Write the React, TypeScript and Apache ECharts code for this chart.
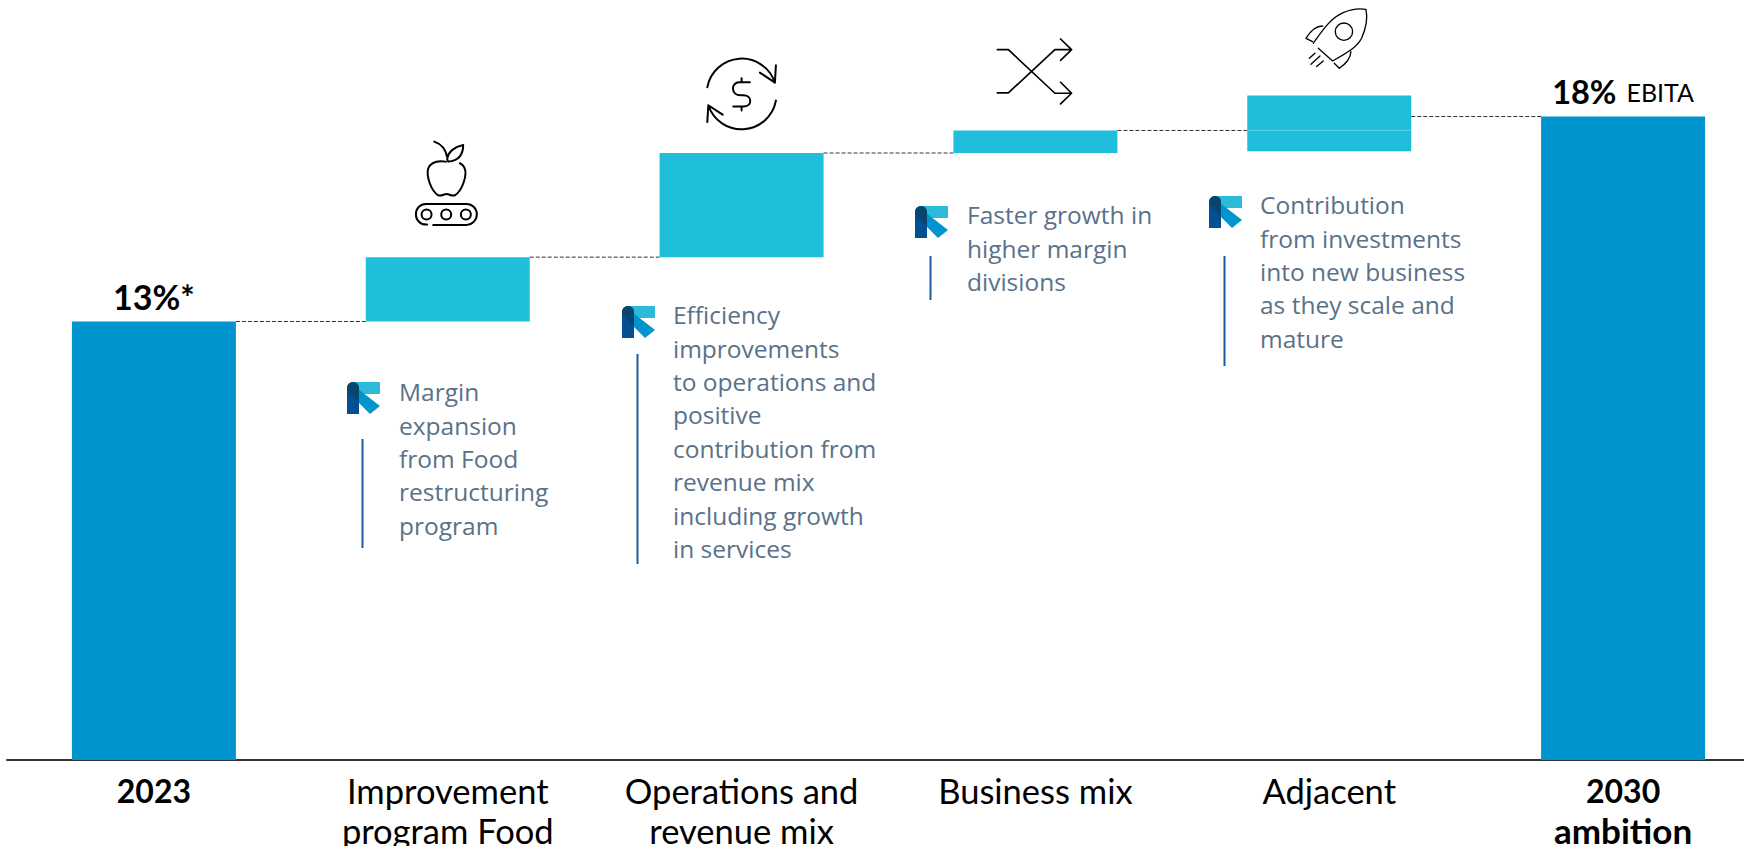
import React, { useEffect, useRef } from "react";
import * as echarts from "echarts";

const categories = ["2023", "Improvement\nprogram Food", "Operations and\nrevenue mix", "Business mix", "Adjacent", "2030\nambition"];
const boldCategories = [0, 5];
const hiddenBase = [null, 13.0, 14.57, 17.11, 17.15, null];
const stepValues = [null, 1.57, 2.54, 0.55, 0.51, null];
const adjacentUpper = [null, null, null, null, 0.85, null];
const totals = [13.0, null, null, null, null, 18.0];
const totalLabels = ["13%*", "", "", "", "", "18%"];
const totalNote = "EBITA";
// [from category, to category, level]
const connectors = [
  [0, 1, 13.0],
  [1, 2, 14.57],
  [2, 3, 17.11],
  [3, 4, 17.66],
  [4, 5, 18.0],
];
const foodNote = "Margin\nexpansion\nfrom Food\nrestructuring\nprogram";
const opsNote = "Efficiency\nimprovements\nto operations and\npositive\ncontribution from\nrevenue mix\nincluding growth\nin services";
const mixNote = "Faster growth in\nhigher margin\ndivisions";
const adjacentNote = "Contribution\nfrom investments\ninto new business\nas they scale and\nmature";

const BAR_W = 164;
const TOTAL_C = "#0095CE";
const STEP_C = "#1FBFDC";
const NOTE_C = "#5A7189";
const SANS = "Lato";
const NOTE_FONT = "Open Sans";

const reg = (name: string, d: string) => echarts.graphic.registerShape(name, echarts.graphic.extendPath(d as any, {}));
const circ = (x: number, y: number, r: number) => `M${x - r},${y} A${r},${r} 0 1 1 ${x + r},${y} A${r},${r} 0 1 1 ${x - r},${y} Z`;

reg("iconApple",
  "M343,65 C365,72 378,90 382,112 M382,118 C384,95 405,80 430,75 C430,100 420,122 385,125 L382,118 " +
  "M378,125 C360,122 335,122 325,145 C318,170 335,215 355,226 C365,230 372,222 380,222 C388,222 395,230 405,226 C425,215 445,165 433,142 C430,136 425,132 420,130 " +
  "M322,314 H318 C300,314 288,300 288,283 C288,266 300,252 318,252 H440 C458,252 471,266 471,283 C471,300 458,315 440,315 H340 " +
  circ(320, 284, 15) + " " + circ(379, 284, 15) + " " + circ(438, 284, 15));
reg("iconDollar",
  "M82,142 A105,105 0 0 1 285,128 M240,98 L285,128 L288,76 M288,182 A105,105 0 0 1 85,196 M128,224 L85,196 L82,246 " +
  "M210,127 H178 C152,127 152,166 182,166 H190 C218,166 218,200 190,200 H160 M185,115 V127 M185,200 V212");
reg("iconShuffle", "M52,89 H85 L225,220 H272 M52,219 H85 L225,89 H272 M242,57 L275,89 L242,121 M242,187 L275,220 L242,252");
reg("iconRocket",
  "M100,130 C125,95 150,55 190,38 C215,27 240,25 258,28 C263,50 258,85 245,115 C230,145 190,165 158,183 L115,145 " +
  circ(192, 95, 26) + " M128,78 C105,78 90,95 78,115 L98,125 M213,155 C212,175 200,190 178,205 L163,190 M105,160 L88,175 M120,168 L93,193 M130,183 L110,200");
reg("logoCyan", "M5,0 H33 V12 H14 Z");
reg("logoBand", "M6,3 L33,24 L23,32 L12,21 Z");
reg("logoPill", "M0,32 V6 A6,6 0 0 1 12,6 V32 Z");
reg("logoTop", "M0,6 A6,6 0 0 1 12,6 V20 L0,8 Z");

const icon = (type: string, x: number, y: number, lineWidth: number) => ({
  type, x, y, scaleX: 1 / 3, scaleY: 1 / 3, silent: true,
  style: { fill: "none", stroke: "#000", lineWidth, lineCap: "round", lineJoin: "round" },
});

const note = (text: string, lx: number, ly: number, tx: number, ty: number, y1: number, y2: number) => [
  { type: "group", x: lx, y: ly, silent: true, children: [
    { type: "logoCyan", style: { fill: "#2BBBD8" } },
    { type: "logoBand", style: { fill: "#0095CE" } },
    { type: "logoPill", style: { fill: "#034F93" } },
    { type: "logoTop", style: { fill: "#07446E" } },
  ] },
  { type: "line", silent: true, shape: { x1: lx + 15.5, y1, x2: lx + 15.5, y2 }, style: { stroke: "#1B5A9B", lineWidth: 2 } },
  { type: "text", x: tx, y: ty, silent: true, style: { text, fill: NOTE_C, font: `24.5px "${NOTE_FONT}"`, lineHeight: 33.4, verticalAlign: "top" } },
];

export default function App() {
  const ref = useRef<HTMLDivElement>(null);
  useEffect(() => {
    const chart = echarts.init(ref.current!, null, { renderer: "svg" });
    chart.setOption({
      animation: false,
      backgroundColor: "#fff",
      grid: { left: 7, width: 1763, top: 0, height: 760, outerBoundsMode: "none" },
      xAxis: {
        type: "category",
        data: categories,
        axisTick: { show: false },
        axisLine: { lineStyle: { color: "#333", width: 2 } },
        axisLabel: {
          interval: 0,
          margin: 10,
          formatter: (v: string, i: number) => {
            const bold = boldCategories.includes(i);
            return v.split("\n").map((s) => `{${bold ? (/^\d+$/.test(s) ? "d" : "b") : "n"}|${s}}`).join("\n");
          },
          rich: {
            d: { fontFamily: SANS, fontSize: 32, fontWeight: "bold", color: "#000", lineHeight: 40 },
            b: { fontFamily: SANS, fontSize: 35, fontWeight: "bold", color: "#000", lineHeight: 40 },
            n: { fontFamily: SANS, fontSize: 34.5, color: "#000", lineHeight: 40 },
          },
        },
      },
      yAxis: { type: "value", min: 2.305, max: 20.842, show: false, splitLine: { show: false } },
      series: [
        { name: "base", type: "bar", stack: "w", barWidth: BAR_W, silent: true, itemStyle: { color: "transparent" }, data: hiddenBase },
        { name: "step", type: "bar", stack: "w", barWidth: BAR_W, silent: true, itemStyle: { color: STEP_C }, data: stepValues },
        { name: "adjacent upper", type: "bar", stack: "w", barWidth: BAR_W, silent: true, itemStyle: { color: "#20BEDB" }, data: adjacentUpper },
        {
          name: "total", type: "bar", stack: "w", barWidth: BAR_W, silent: true, itemStyle: { color: TOTAL_C }, data: totals,
          label: {
            show: true,
            position: "top",
            distance: 8.5,
            formatter: (p: any) => {
              const t = totalLabels[p.dataIndex];
              return p.dataIndex === 5 ? `{b|${t}}{r|${totalNote}}` : `{a|${t}}`;
            },
            rich: {
              a: { fontFamily: SANS, fontSize: 34, fontWeight: "bold", color: "#000" },
              b: { fontFamily: SANS, fontSize: 32.5, fontWeight: "bold", color: "#000" },
              r: { fontFamily: SANS, fontSize: 25, color: "#000", padding: [0, 0, 0, 10] },
            },
          },
        },
        {
          name: "connectors", type: "custom", silent: true, clip: false,
          data: connectors,
          encode: { x: 0, y: 2 },
          renderItem: (_: any, api: any) => {
            const a = api.coord([api.value(0), api.value(2)]);
            const b = api.coord([api.value(1), api.value(2)]);
            return {
              type: "line",
              shape: { x1: a[0] + BAR_W / 2, y1: a[1], x2: b[0] - BAR_W / 2, y2: b[1] },
              style: { stroke: "#333", lineWidth: 1, lineDash: [4, 2] },
            };
          },
        },
      ],
      graphic: [
        icon("iconApple", 320, 120, 6),
        icon("iconDollar", 680, 40, 6),
        icon("iconShuffle", 980, 20, 5),
        icon("iconRocket", 1280, 0, 4),
        ...note(foodNote, 347, 382, 399, 375, 439, 548),
        ...note(opsNote, 622, 306, 673, 298, 354, 564),
        ...note(mixNote, 915, 206, 967, 198, 256, 300),
        ...note(adjacentNote, 1209, 196, 1260, 188, 256, 366),
      ],
    });
    return () => chart.dispose();
  }, []);
  return <div ref={ref} style={{ position: "absolute", left: 0, top: 0, width: 1744, height: 846, overflow: "hidden" }} />;
}
